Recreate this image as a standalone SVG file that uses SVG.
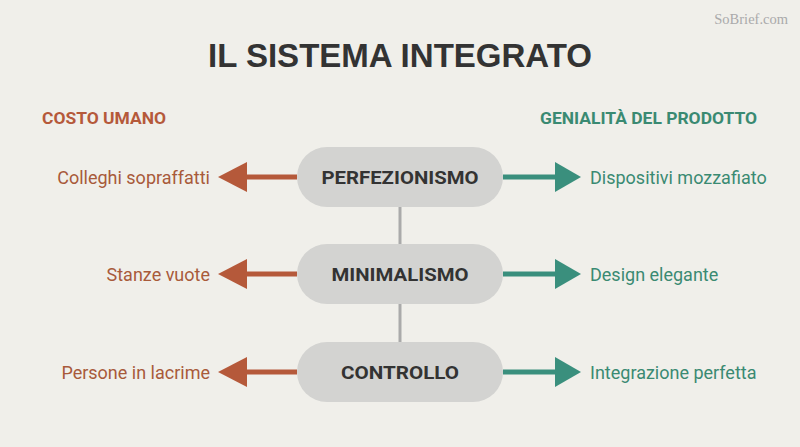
<svg xmlns="http://www.w3.org/2000/svg" width="800" height="447" viewBox="0 0 800 447">
<style>
.title{font-family:"Liberation Sans",Arial,sans-serif;font-weight:bold;font-size:33px;fill:#333333}
.head{font-family:Roboto,"Liberation Sans",sans-serif;font-weight:bold;font-size:16px}
.pill{fill:#d3d3d1}
.ntext{font-family:Roboto,"Liberation Sans",sans-serif;font-weight:bold;font-size:19px;fill:#333333;text-anchor:middle}
.lt{font-family:Roboto,"Liberation Sans",sans-serif;font-size:18px;fill:#a85a3a;text-anchor:end}
.rt{font-family:Roboto,"Liberation Sans",sans-serif;font-size:18px;fill:#3a8a72}
.rust{stroke:#b5593a;stroke-width:5;fill:none}
.rusth{fill:#b5593a}
.teal{stroke:#3a8f7d;stroke-width:5;fill:none}
.tealh{fill:#3a8f7d}
.vline{stroke:#aaaaaa;stroke-width:3}
.wm{font-family:"Liberation Serif",serif;font-size:14.5px;fill:#aaaaaa}
</style>
<rect width="800" height="447" fill="#f0efea"/>
<text class="wm" x="788" y="24" text-anchor="end">SoBrief.com</text>
<text class="title" x="208" y="67" textLength="384" lengthAdjust="spacingAndGlyphs">IL SISTEMA INTEGRATO</text>
<text class="head" x="42" y="124" fill="#b5593a" textLength="124" lengthAdjust="spacingAndGlyphs">COSTO UMANO</text>
<text class="head" x="540" y="124" fill="#3a8a72" textLength="217" lengthAdjust="spacingAndGlyphs">GENIALITÀ DEL PRODOTTO</text>
<g id="connectors">
<line class="vline" x1="400" y1="207" x2="400" y2="244"/>
<line class="vline" x1="400" y1="304" x2="400" y2="342"/>
<line class="rust" x1="297" y1="177" x2="245" y2="177"/>
<polygon class="rusth" points="247,162 247,192 218,177"/>
<line class="rust" x1="297" y1="274" x2="245" y2="274"/>
<polygon class="rusth" points="247,259 247,289 218,274"/>
<line class="rust" x1="297" y1="372" x2="245" y2="372"/>
<polygon class="rusth" points="247,357 247,387 218,372"/>
<line class="teal" x1="503" y1="177" x2="557" y2="177"/>
<polygon class="tealh" points="555,162 555,192 581,177"/>
<line class="teal" x1="503" y1="274" x2="557" y2="274"/>
<polygon class="tealh" points="555,259 555,289 581,274"/>
<line class="teal" x1="503" y1="372" x2="557" y2="372"/>
<polygon class="tealh" points="555,357 555,387 581,372"/>
</g>
<g id="perfezionismo">
<rect class="pill" x="297" y="147" width="206" height="60" rx="30"/>
<text class="ntext" x="400" y="184" textLength="157" lengthAdjust="spacingAndGlyphs">PERFEZIONISMO</text>
</g>
<g id="minimalismo">
<rect class="pill" x="297" y="244" width="206" height="60" rx="30"/>
<text class="ntext" x="400" y="281" textLength="137" lengthAdjust="spacingAndGlyphs">MINIMALISMO</text>
</g>
<g id="controllo">
<rect class="pill" x="297" y="342" width="206" height="60" rx="30"/>
<text class="ntext" x="400" y="379" textLength="118" lengthAdjust="spacingAndGlyphs">CONTROLLO</text>
</g>
<g id="costi">
<text class="lt" x="210" y="183.5">Colleghi sopraffatti</text>
<text class="lt" x="210" y="280.5">Stanze vuote</text>
<text class="lt" x="210" y="378.5">Persone in lacrime</text>
</g>
<g id="genialita">
<text class="rt" x="590" y="183.5">Dispositivi mozzafiato</text>
<text class="rt" x="590" y="280.5">Design elegante</text>
<text class="rt" x="590" y="378.5">Integrazione perfetta</text>
</g>
</svg>
